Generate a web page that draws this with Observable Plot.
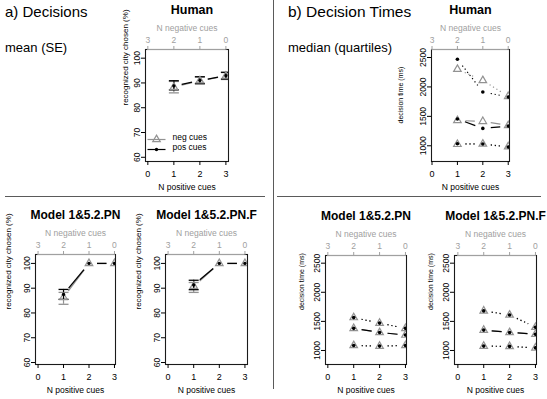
<!DOCTYPE html>
<html>
<head>
<meta charset="utf-8">
<script src="https://cdn.jsdelivr.net/npm/d3@7"></script>
<script src="https://cdn.jsdelivr.net/npm/@observablehq/plot@0.6"></script>
<style>
  html, body { margin: 0; padding: 0; background: #fff; }
  #root { position: relative; width: 547px; height: 399px; overflow: hidden; font-family: "Liberation Sans", Arial, Helvetica, sans-serif; color: #000; }
  .lbl { position: absolute; white-space: nowrap; line-height: 1; }
  .panel { position: absolute; }
  .rule { position: absolute; background: #5a5a5a; }
</style>
</head>
<body>
<div id="root"></div>
<script>
const FONT = '"Liberation Sans", Arial, Helvetica, sans-serif';
const NEG = "#929292";
const POS = "#000000";
const TOPGRAY = "#a0a0a0";

// ---- shared axis data ----
const cues = [1, 2, 3];
const xTicks = [0, 1, 2, 3];
const negLabels = ["3", "2", "1", "0"];
const pctTicks = [60, 70, 80, 90, 100];
const msTicks = [1000, 1500, 2000, 2500];
const legendLabels = ["neg cues", "pos cues"];

// ---- a) Decisions: mean and SE bounds (% recognized city chosen) ----
const humanPosMean = [88.8, 91.0, 92.9];
const humanPosLo   = [87.2, 89.8, 91.6];
const humanPosHi   = [90.9, 92.5, 94.3];
const humanNegMean = [88.3, 90.9, 92.8];
const humanNegLo   = [86.0, 89.5, 91.4];
const humanNegHi   = [90.6, 92.4, 94.2];

const pnPosMean = [87.5, 100, 100];
const pnPosLo   = [85.5, 100, 100];
const pnPosHi   = [89.5, 100, 100];
const pnNegMean = [86.3, 100, 100];
const pnNegLo   = [83.5, 100, 100];
const pnNegHi   = [88.3, 100, 100];

const pnfPosMean = [91.3, 100, 100];
const pnfPosLo   = [89.4, 100, 100];
const pnfPosHi   = [93.2, 100, 100];
const pnfNegMean = [90.8, 100, 100];
const pnfNegLo   = [88.3, 100, 100];
const pnfNegHi   = [92.3, 100, 100];

// ---- b) Decision times: median and quartiles (ms) ----
const humanNegUpper  = [2300, 2110, 1840];
const humanNegMedian = [1430, 1415, 1345];
const humanNegLower  = [1025, 1030, 985];
const humanPosUpper  = [2470, 1915, 1830];
const humanPosMedian = [1455, 1295, 1335];
const humanPosLower  = [1035, 1030, 980];

const pnUpper  = [1565, 1470, 1380];
const pnMedian = [1380, 1310, 1265];
const pnLower  = [1085, 1075, 1085];

const pnfUpper  = [1680, 1610, 1400];
const pnfMedian = [1350, 1310, 1280];
const pnfLower  = [1075, 1070, 1045];

// ---- helpers ----
const capSymbol = {
  draw(ctx, size) { const w = Math.sqrt(size / Math.PI); ctx.moveTo(-w, 0); ctx.lineTo(w, 0); }
};

function seg(rows, key) {
  const out = [];
  for (let i = 0; i < rows.length - 1; i++) {
    out.push({x1: rows[i].x, y1: rows[i][key], x2: rows[i + 1].x, y2: rows[i + 1][key]});
  }
  return out;
}

function decRows(mean, lo, hi) {
  return cues.map((x, i) => ({x, mean: mean[i], lo: lo[i], hi: hi[i]}));
}

function decisionMarks(neg, pos) {
  const sets = [[neg, NEG], [pos, POS]];
  const marks = [];
  for (const [rows, color] of sets) {
    marks.push(Plot.arrow(seg(rows, "mean"), {x1: "x1", y1: "y1", x2: "x2", y2: "y2", headLength: 0, inset: 8,
      stroke: color, strokeWidth: 1.3, strokeLinecap: "butt", clip: true}));
  }
  for (const [rows, color] of sets) {
    const bars = rows.filter(d => d.hi > d.lo);
    marks.push(Plot.ruleX(bars, {x: "x", y1: "lo", y2: "hi", stroke: color, strokeWidth: 1.2, clip: true}));
    marks.push(Plot.dot(bars, {x: "x", y: "lo", symbol: capSymbol, r: 5, stroke: color, fill: "none", strokeWidth: 1.3, clip: true}));
    marks.push(Plot.dot(bars, {x: "x", y: "hi", symbol: capSymbol, r: 5, stroke: color, fill: "none", strokeWidth: 1.3, clip: true}));
  }
  marks.push(Plot.dot(neg, {x: "x", y: "mean", symbol: "triangle", r: 2.8, stroke: NEG, fill: "none", strokeWidth: 1.2, clip: true}));
  marks.push(Plot.dot(pos, {x: "x", y: "mean", r: 1.7, fill: POS, stroke: "none", clip: true}));
  return marks;
}

function dtMarks(negSet, posSet) {
  const stats = ["upper", "median", "lower"];
  const marks = [];
  for (const [set, color] of [[negSet, NEG], [posSet, POS]]) {
    for (const stat of stats) {
      const rows = cues.map((x, i) => ({x, y: set[stat][i]}));
      const opts = {x1: "x1", y1: "y1", x2: "x2", y2: "y2", headLength: 0, inset: 8,
        stroke: color, strokeWidth: 1.2, strokeLinecap: "butt", clip: true};
      if (stat !== "median") opts.strokeDasharray = "1.2,2.8";
      marks.push(Plot.arrow(seg(rows, "y"), opts));
    }
  }
  const negRows = stats.flatMap(stat => cues.map((x, i) => ({x, y: negSet[stat][i]})));
  const posRows = stats.flatMap(stat => cues.map((x, i) => ({x, y: posSet[stat][i]})));
  marks.push(Plot.dot(negRows, {x: "x", y: "y", symbol: "triangle", r: 2.8, stroke: NEG, fill: "none", strokeWidth: 1.2, clip: true}));
  marks.push(Plot.dot(posRows, {x: "x", y: "y", r: 1.8, fill: POS, stroke: "none", clip: true}));
  return marks;
}

function panel(cfg) {
  const {xDomain, yDomain, yTicks} = cfg;
  const svg = Plot.plot({
    width: cfg.w, height: cfg.h,
    marginLeft: cfg.ml, marginRight: cfg.mr, marginTop: cfg.mt, marginBottom: cfg.mb,
    style: {background: "transparent", fontFamily: FONT, fontSize: "8px", color: "#000", overflow: "visible"},
    x: {domain: xDomain, axis: null},
    y: {domain: yDomain, axis: null},
    marks: [
      Plot.frame({stroke: "#1a1a1a", strokeWidth: 1.1}),
      Plot.ruleY([yDomain[1]], {x1: xTicks[0], x2: xTicks[xTicks.length - 1], stroke: TOPGRAY, strokeWidth: 1.1}),
      Plot.axisX(xTicks, {anchor: "bottom", tickSize: 4, tickPadding: 5, fontSize: 9, label: null}),
      Plot.axisX(xTicks, {anchor: "top", tickSize: 4, tickPadding: 3, tickFormat: d => negLabels[d], color: TOPGRAY, fontSize: 8.5, label: null}),
      Plot.axisY(yTicks, {anchor: "left", tickSize: 4, tickPadding: 2, tickRotate: -90, tickFormat: d => String(d), fontSize: 8.5, label: null}),
      Plot.text([cfg.title], {text: d => d, frameAnchor: "top", dy: -36, dx: cfg.titleDx || 0, lineAnchor: "bottom", fontWeight: "bold", fontSize: cfg.titleSize || 12}),
      Plot.text(["N negative cues"], {text: d => d, frameAnchor: "top", dy: -19, lineAnchor: "bottom", fill: TOPGRAY, fontSize: 8.5}),
      Plot.text(["N positive cues"], {text: d => d, frameAnchor: "bottom", dy: 28, lineAnchor: "bottom", fontSize: 8.5}),
      Plot.text([cfg.yLabel], {text: d => d, frameAnchor: "left", dx: -cfg.yLabelDx, dy: cfg.yLabelDy || 0, rotate: -90, fontSize: cfg.yLabelSize}),
      ...cfg.marks
    ]
  });
  const div = document.createElement("div");
  div.className = "panel";
  div.style.left = cfg.left + "px";
  div.style.top = cfg.top + "px";
  div.appendChild(svg);
  return div;
}

const root = document.getElementById("root");

function addLabel(text, left, top, size) {
  const d = document.createElement("div");
  d.className = "lbl";
  d.textContent = text;
  d.style.left = left + "px";
  d.style.top = top + "px";
  d.style.fontSize = size + "px";
  root.appendChild(d);
}
function addRule(left, top, width, height) {
  const d = document.createElement("div");
  d.className = "rule";
  Object.assign(d.style, {left: left + "px", top: top + "px", width: width + "px", height: height + "px"});
  root.appendChild(d);
}

addLabel("a) Decisions", 5, 4, 15);
addLabel("mean (SE)", 5, 41, 13);
addLabel("b) Decision Times", 288, 4, 15.5);
addLabel("median (quartiles)", 288, 41, 13);
addRule(5, 196, 260, 1);
addRule(277, 196, 264, 1);
addRule(273, 0, 1, 389);

// legend for the Human decisions panel
const legendMarks = [
  Plot.dot([legendLabels[0]], {frameAnchor: "bottom-left", dx: 11, dy: -22, symbol: capSymbol, r: 9, stroke: NEG, fill: "none", strokeWidth: 1.2}),
  Plot.dot([legendLabels[0]], {frameAnchor: "bottom-left", dx: 11, dy: -22, symbol: "triangle", r: 2.8, stroke: NEG, fill: "none", strokeWidth: 1.2}),
  Plot.text([legendLabels[0]], {text: d => d, frameAnchor: "bottom-left", dx: 27, dy: -22, textAnchor: "start", fontSize: 8.5}),
  Plot.dot([legendLabels[1]], {frameAnchor: "bottom-left", dx: 11, dy: -12, symbol: capSymbol, r: 9, stroke: POS, fill: "none", strokeWidth: 1.2}),
  Plot.dot([legendLabels[1]], {frameAnchor: "bottom-left", dx: 11, dy: -12, r: 1.7, fill: POS, stroke: "none"}),
  Plot.text([legendLabels[1]], {text: d => d, frameAnchor: "bottom-left", dx: 27, dy: -12, textAnchor: "start", fontSize: 8.5})
];

root.appendChild(panel({
  left: 95, top: 0, w: 155, h: 196, ml: 50, mr: 22, mt: 49, mb: 35,
  xDomain: [-0.09, 3.1], yDomain: [58.3, 103.5], yTicks: pctTicks,
  title: "Human", titleDx: 5, titleSize: 12.5, yLabel: "recognized city chosen (%)", yLabelDx: 20.5, yLabelSize: 8,
  marks: [...decisionMarks(decRows(humanNegMean, humanNegLo, humanNegHi), decRows(humanPosMean, humanPosLo, humanPosHi)), ...legendMarks]
}));

root.appendChild(panel({
  left: 380, top: 0, w: 150, h: 196, ml: 51, mr: 21, mt: 49, mb: 35,
  xDomain: [-0.02, 3.05], yDomain: [733, 2636], yTicks: msTicks,
  title: "Human", titleSize: 12.5, yLabel: "decision time (ms)", yLabelDx: 31, yLabelDy: 18, yLabelSize: 7,
  marks: dtMarks({upper: humanNegUpper, median: humanNegMedian, lower: humanNegLower},
                 {upper: humanPosUpper, median: humanPosMedian, lower: humanPosLower})
}));

root.appendChild(panel({
  left: 0, top: 196, w: 130, h: 196, ml: 35, mr: 15, mt: 58, mb: 28,
  xDomain: [-0.1, 3.04], yDomain: [59.2, 103.6], yTicks: pctTicks,
  title: "Model 1&5.2.PN", yLabel: "recognized city chosen (%)", yLabelDx: 27.5, yLabelSize: 8,
  marks: decisionMarks(decRows(pnNegMean, pnNegLo, pnNegHi), decRows(pnPosMean, pnPosLo, pnPosHi))
}));

root.appendChild(panel({
  left: 130, top: 196, w: 135, h: 196, ml: 35, mr: 18, mt: 58, mb: 28,
  xDomain: [-0.1, 3.1], yDomain: [59.2, 103.6], yTicks: pctTicks,
  title: "Model 1&5.2.PN.F", yLabel: "recognized city chosen (%)", yLabelDx: 27.5, yLabelSize: 8,
  marks: decisionMarks(decRows(pnfNegMean, pnfNegLo, pnfNegHi), decRows(pnfPosMean, pnfPosLo, pnfPosHi))
}));

root.appendChild(panel({
  left: 280, top: 196, w: 140, h: 196, ml: 45, mr: 14, mt: 59, mb: 28,
  xDomain: [-0.09, 3.04], yDomain: [759, 2632], yTicks: msTicks,
  title: "Model 1&5.2.PN", yLabel: "decision time (ms)", yLabelDx: 23.5, yLabelSize: 7,
  marks: dtMarks({upper: pnUpper, median: pnMedian, lower: pnLower},
                 {upper: pnUpper, median: pnMedian, lower: pnLower})
}));

root.appendChild(panel({
  left: 420, top: 196, w: 127, h: 196, ml: 34, mr: 11, mt: 59, mb: 28,
  xDomain: [-0.13, 3.04], yDomain: [759, 2632], yTicks: msTicks,
  title: "Model 1&5.2.PN.F", yLabel: "decision time (ms)", yLabelDx: 24, yLabelSize: 7,
  marks: dtMarks({upper: pnfUpper, median: pnfMedian, lower: pnfLower},
                 {upper: pnfUpper, median: pnfMedian, lower: pnfLower})
}));
</script>
</body>
</html>
